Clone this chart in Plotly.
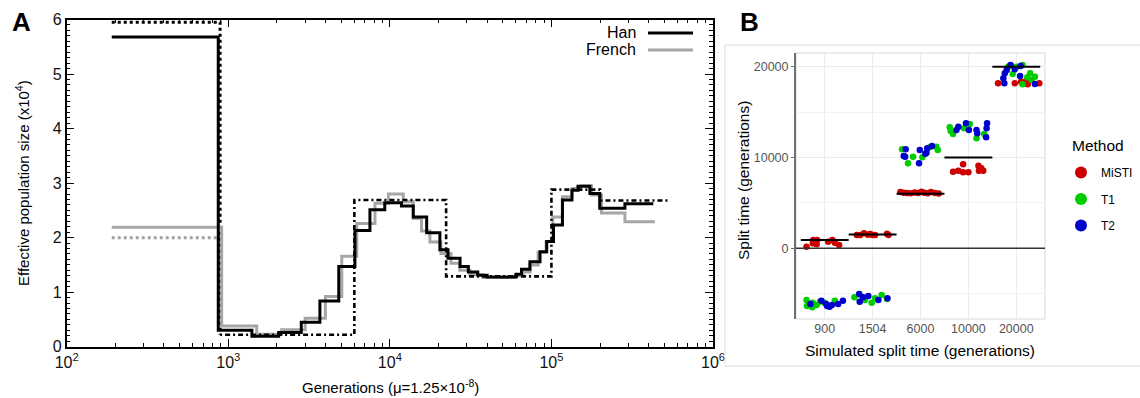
import plotly.graph_objects as go

# ---------------- Panel A data (PSMC-like step curves) ----------------
han_t = [190, 867, 1400, 2050, 2830, 3690, 4830, 6080, 7530, 9300, 11800, 13960, 16900, 20400,
         22900, 27200, 30600, 35000, 40000, 60300, 65300, 73600, 85000, 93500, 103000, 117000,
         134000, 146000, 173000, 199000, 285000, 427000]
han_n = [5.68, 0.30, 0.19, 0.26, 0.45, 0.84, 1.47, 2.13, 2.51, 2.64, 2.58, 2.38, 2.09, 1.78,
         1.62, 1.47, 1.37, 1.31, 1.28, 1.33, 1.42, 1.56, 1.74, 1.93, 2.23, 2.69, 2.87, 2.94,
         2.81, 2.54, 2.62]

fr_t = [190, 910, 1500, 2140, 2990, 3990, 5040, 6240, 8090, 9800, 12100, 13960, 15700, 17700,
        20700, 23900, 27100, 31300, 37700, 59600, 66700, 73800, 82700, 92700, 102000, 117000,
        134000, 152000, 177000, 204000, 285000, 437000]
fr_n = [2.19, 0.38, 0.23, 0.31, 0.52, 0.92, 1.66, 2.26, 2.63, 2.80, 2.66, 2.35, 2.12, 1.92,
        1.71, 1.53, 1.40, 1.32, 1.27, 1.30, 1.37, 1.50, 1.73, 1.93, 2.38, 2.75, 2.90, 2.95,
        2.78, 2.45, 2.29]

true_start = 190
true_split_t = 890
han_true_recent = 5.95
fr_true_recent = 2.0
anc_t = [890, 6030, 22300, 100000, 200000, 528000]
anc_n = [0.22, 2.69, 1.29, 2.88, 2.68]

# ---------------- Panel B data ----------------
categories = ["900", "1504", "6000", "10000", "20000"]
true_split = [900, 1504, 6000, 10000, 20000]

misti_cat = [0]*9 + [1]*9 + [2]*12 + [3]*9 + [4]*8
misti_jit = [-0.38, -0.24, -0.16, -0.17, -0.25, 0.07, 0.16, 0.21, 0.30,
             -0.33, -0.26, -0.18, -0.05, 0.0, 0.05, 0.33, 0.30, -0.10,
             -0.42, -0.35, -0.28, -0.20, -0.12, -0.05, 0.02, 0.08, 0.15, 0.22, 0.30, 0.38,
             -0.32, -0.21, -0.11, -0.11, 0.0, 0.21, 0.22, 0.31, 0.27,
             -0.38, -0.03, 0.15, 0.19, 0.24, 0.48, 0.20, 0.10]
misti_val = [180, 910, 910, 440, 550, 730, 910, 620, 360,
             1460, 1460, 1650, 1570, 1460, 1460, 1460, 1600, 1500,
             6200, 6120, 6080, 6050, 6150, 6080, 6230, 6120, 6050, 6200, 6100, 6040,
             8440, 8550, 9250, 8370, 8370, 9100, 8550, 8550, 8810,
             18170, 18170, 18240, 18170, 18060, 18170, 18400, 18350]

t1_cat = [0]*8 + [1]*7 + [2]*7 + [3]*7 + [4]*10
t1_jit = [-0.38, -0.37, -0.25, -0.17, -0.26, 0.0, 0.21, -0.10,
          -0.38, -0.28, -0.16, -0.02, 0.05, 0.19, 0.30,
          -0.385, -0.26, -0.155, 0.04, 0.19, 0.33, 0.36,
          -0.39, -0.37, -0.32, -0.09, 0.03, 0.17, 0.33,
          -0.17, -0.10, -0.075, 0.01, 0.13, 0.13, 0.23, 0.29, 0.39, 0.32]
t1_val = [-5690, -6350, -5990, -6240, -6500, -6000, -5770, -5900,
          -5400, -5100, -5690, -5990, -5510, -5140, -5600,
          10900, 9360, 10090, 10020, 11120, 11190, 10830,
          13320, 12920, 12590, 13210, 13690, 12110, 12590,
          20000, 20080, 19200, 20000, 20190, 18060, 18830, 19270, 18900, 18530]

t2_cat = [0]*8 + [1]*6 + [2]*9 + [3]*9 + [4]*9
t2_jit = [-0.30, -0.07, 0.03, 0.10, 0.15, 0.28, 0.38, 0.05,
          -0.28, -0.27, -0.09, 0.12, 0.31, -0.20,
          -0.31, -0.35, -0.32, -0.03, -0.015, 0.125, 0.14, 0.24, 0.10,
          -0.21, -0.25, -0.05, 0.01, 0.17, 0.185, 0.37, 0.38, 0.39,
          -0.24, -0.20, -0.12, -0.27, -0.25, -0.03, 0.09, 0.08, 0.39]
t2_val = [-6130, -5770, -6130, -6430, -6250, -6130, -5770, -6350,
          -5030, -5880, -5250, -5690, -5510, -5400,
          10900, 10170, 10090, 9360, 10830, 10530, 11010, 11270, 10400,
          13390, 13030, 13770, 13030, 13030, 12660, 12220, 13210, 13770,
          19270, 19640, 20190, 18720, 18170, 19710, 20080, 18970, 18090]

FONT = "Liberation Sans, Arial, sans-serif"
W, H = 1140, 398

def px(x):
    return x / W

def py(y):
    return (H - y) / H

fig = go.Figure()

# ---- Panel A traces ----
fig.add_trace(go.Scatter(x=[true_start, true_split_t, true_split_t],
                         y=[han_true_recent, han_true_recent, anc_n[0]],
                         mode="lines", line=dict(color="black", width=3, dash="dot"),
                         showlegend=False, xaxis="x", yaxis="y"))
fig.add_trace(go.Scatter(x=[true_start, true_split_t], y=[fr_true_recent, fr_true_recent],
                         mode="lines", line=dict(color="#a0a0a0", width=3, dash="dot"),
                         showlegend=False, xaxis="x", yaxis="y"))
fig.add_trace(go.Scatter(x=fr_t, y=fr_n + [fr_n[-1]], mode="lines", line_shape="hv",
                         line=dict(color="#a6a6a6", width=3), showlegend=False,
                         xaxis="x", yaxis="y"))
fig.add_trace(go.Scatter(x=han_t, y=han_n + [han_n[-1]], mode="lines", line_shape="hv",
                         line=dict(color="black", width=3), showlegend=False,
                         xaxis="x", yaxis="y"))
fig.add_trace(go.Scatter(x=anc_t, y=anc_n + [anc_n[-1]], mode="lines", line_shape="hv",
                         line=dict(color="black", width=2.6, dash="2px,3px,5px,3px"),
                         showlegend=False, xaxis="x", yaxis="y"))

# ---- Panel B traces ----
seg_x, seg_y = [], []
for i, v in enumerate(true_split):
    seg_x += [i - 0.5, i + 0.5, None]
    seg_y += [v, v, None]

def jx(cats, jits):
    return [c + j for c, j in zip(cats, jits)]

for name, cats, jits, vals, col in [("MiSTI", misti_cat, misti_jit, misti_val, "#CD0000"),
                                     ("T1", t1_cat, t1_jit, t1_val, "#00CD00"),
                                     ("T2", t2_cat, t2_jit, t2_val, "#0000CD")]:
    fig.add_trace(go.Scatter(x=jx(cats, jits), y=vals, mode="markers", name=name,
                             legendgroup=name,
                             marker=dict(color=col, size=6.5, line=dict(width=0)),
                             xaxis="x2", yaxis="y2"))

fig.add_trace(go.Scatter(x=seg_x, y=seg_y, mode="lines", line=dict(color="black", width=2),
                         showlegend=False, xaxis="x2", yaxis="y2"))

decades = [100, 1000, 10000, 100000, 1000000]
minor_vals = [m * d for d in decades[:-1] for m in range(2, 10)]

fig.update_layout(
    width=W, height=H,
    margin=dict(l=0, r=0, t=0, b=0),
    paper_bgcolor="white", plot_bgcolor="white",
    font=dict(family=FONT, color="black"),
    xaxis=dict(domain=[px(66.7), px(713)], type="log", range=[2, 6],
               tickvals=decades,
               ticktext=["10<sup>2</sup>", "10<sup>3</sup>", "10<sup>4</sup>",
                         "10<sup>5</sup>", "10<sup>6</sup>"],
               ticks="inside", ticklen=8, tickwidth=1, tickcolor="black",
               showline=True, linecolor="black", linewidth=1.5, mirror="ticks",
               showgrid=False, zeroline=False, automargin=False,
               minor=dict(tickvals=minor_vals, ticks="inside", ticklen=4,
                          tickcolor="black", showgrid=False),
               tickfont=dict(size=16, color="#111"),
               anchor="y"),
    yaxis=dict(domain=[py(346.7), py(19.5)], range=[0, 6], dtick=1,
               ticks="inside", ticklen=8, tickwidth=1, tickcolor="black",
               showline=True, linecolor="black", linewidth=1.5, mirror="ticks",
               showgrid=False, zeroline=False, automargin=False,
               minor=dict(dtick=0.1, ticks="inside", ticklen=4, tickcolor="black",
                          showgrid=False),
               tickfont=dict(size=16, color="#111"),
               anchor="x"),
    xaxis2=dict(domain=[px(796), px(1045)], range=[-0.6, 4.6],
                tickvals=list(range(len(categories))), ticktext=categories,
                showline=False, zeroline=False, ticks="", automargin=False,
                showgrid=True, gridcolor="#EBEBEB", gridwidth=1,
                tickfont=dict(size=12.5, color="#555"),
                anchor="y2"),
    yaxis2=dict(domain=[py(319), py(53)], range=[-7790, 21510],
                tickvals=[0, 10000, 20000], ticktext=["0", "10000", "20000"],
                showline=True, linecolor="#707070", linewidth=2,
                ticks="outside", ticklen=3, tickcolor="#707070", automargin=False,
                showgrid=True, gridcolor="#EBEBEB", gridwidth=1, zeroline=False,
                minor=dict(tickvals=[-5000, 5000, 15000], showgrid=True,
                           gridcolor="#F2F2F2", gridwidth=1, ticks=""),
                tickfont=dict(size=12.5, color="#555"),
                anchor="x2"),
    legend=dict(x=px(1061), y=py(158), xanchor="left", yanchor="top",
                font=dict(size=12), tracegroupgap=7.5, itemsizing="constant",
                itemwidth=30, bgcolor="rgba(0,0,0,0)"),
    shapes=[
        dict(type="rect", xref="x2 domain", yref="y2 domain", x0=0, x1=1, y0=0, y1=1,
             line=dict(color="#D9D9D9", width=1), layer="below"),
        dict(type="line", xref="x2 domain", yref="y2", x0=0, x1=1, y0=0, y1=0,
             line=dict(color="#333333", width=1.5)),
        dict(type="rect", xref="paper", yref="paper", x0=px(725), x1=1.01,
             y0=py(366), y1=py(45), line=dict(color="#DDDDDD", width=1)),
        dict(type="line", xref="paper", yref="paper", x0=px(648), x1=px(693),
             y0=py(33), y1=py(33), line=dict(color="black", width=3)),
        dict(type="line", xref="paper", yref="paper", x0=px(648), x1=px(693),
             y0=py(50), y1=py(50), line=dict(color="#a6a6a6", width=3)),
    ],
    annotations=[
        dict(text="<b>A</b>", x=px(10), y=py(22), xref="paper", yref="paper",
             xanchor="left", yanchor="middle", showarrow=False, font=dict(size=26)),
        dict(text="<b>B</b>", x=px(738), y=py(22), xref="paper", yref="paper",
             xanchor="left", yanchor="middle", showarrow=False, font=dict(size=26)),
        dict(text="Han", x=px(638), y=py(33), xref="paper", yref="paper",
             xanchor="right", yanchor="middle", showarrow=False, font=dict(size=16)),
        dict(text="French", x=px(638), y=py(50), xref="paper", yref="paper",
             xanchor="right", yanchor="middle", showarrow=False, font=dict(size=16)),
        dict(text="Effective population size (x10<sup>4</sup>)", x=px(22), y=py(183),
             xref="paper", yref="paper", textangle=-90, showarrow=False,
             xanchor="center", yanchor="middle", font=dict(size=15)),
        dict(text="Generations (\u03bc=1.25\u00d710<sup>-8</sup>)", x=px(390), y=py(386),
             xref="paper", yref="paper", showarrow=False,
             xanchor="center", yanchor="middle", font=dict(size=15)),
        dict(text="Split time (generations)", x=px(743), y=py(181),
             xref="paper", yref="paper", textangle=-90, showarrow=False,
             xanchor="center", yanchor="middle", font=dict(size=15.5)),
        dict(text="Simulated split time (generations)", x=px(920), y=py(350),
             xref="paper", yref="paper", showarrow=False,
             xanchor="center", yanchor="middle", font=dict(size=15.5)),
        dict(text="Method", x=px(1070), y=py(145), xref="paper", yref="paper",
             xanchor="left", yanchor="middle", showarrow=False, font=dict(size=15.5)),
    ],
)

fig.write_html("out.html", config={"displayModeBar": False},
               post_script="document.body.style.margin='0px';"
                           "document.body.style.overflow='hidden';")
